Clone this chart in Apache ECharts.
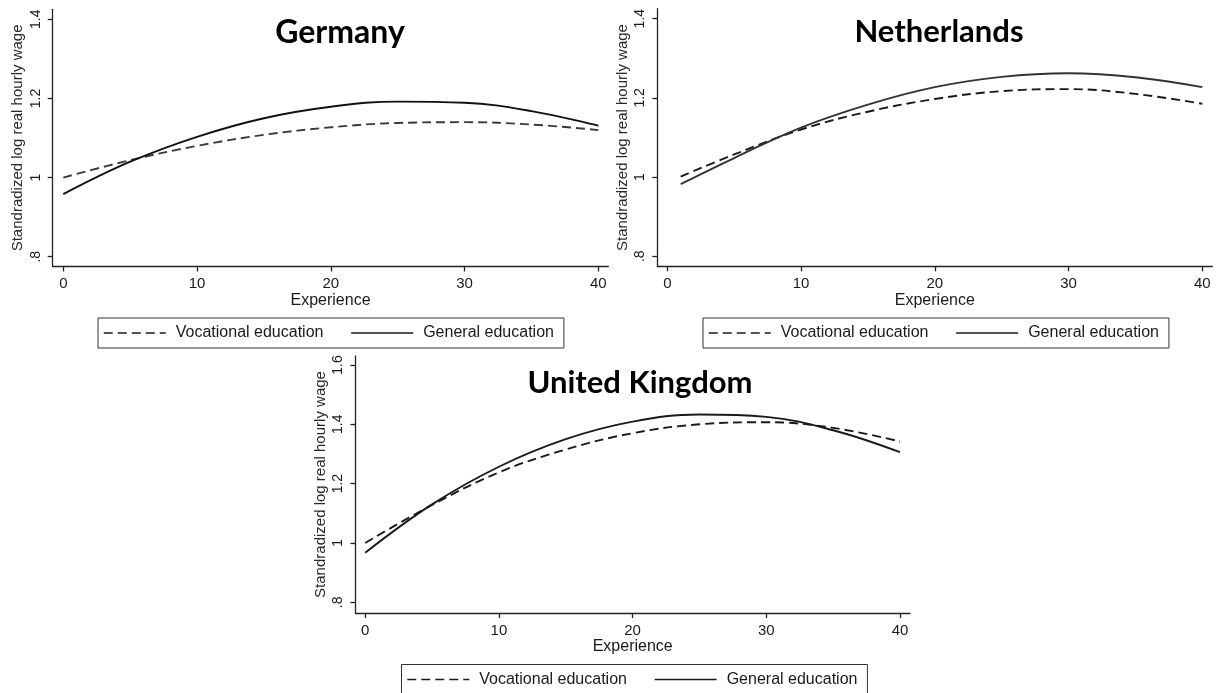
<!DOCTYPE html>
<html>
<head>
<meta charset="utf-8">
<script src="https://cdn.jsdelivr.net/npm/echarts@6/dist/echarts.min.js"></script>
<style>
html,body{margin:0;padding:0;background:#fff;}
#chart{width:1217px;height:693px;}
</style>
</head>
<body>
<div id="chart"></div>
<script>
// ---- Data ----
const seriesNames = ['Vocational education', 'General education'];

const experienceDE = [0, 5, 10, 15, 20, 25, 30, 35, 40];
const germanyVocational = [1.000, 1.044, 1.080, 1.108, 1.127, 1.138, 1.140, 1.134, 1.120];
const germanyGeneral    = [0.958, 1.040, 1.103, 1.150, 1.179, 1.192, 1.189, 1.168, 1.131];

const experienceNL = [1, 5, 10, 15, 20, 25, 30, 35, 40];
const netherlandsVocational = [1.001, 1.057, 1.120, 1.165, 1.197, 1.217, 1.222, 1.210, 1.185];
const netherlandsGeneral    = [0.982, 1.048, 1.125, 1.183, 1.227, 1.253, 1.262, 1.252, 1.227];

const experienceUK = [0, 5, 10, 15, 20, 25, 30, 35, 40];
const ukVocational = [1.000, 1.128, 1.238, 1.315, 1.370, 1.400, 1.407, 1.388, 1.342];
const ukGeneral    = [0.967, 1.130, 1.257, 1.350, 1.409, 1.433, 1.425, 1.380, 1.306];

const xTicks = [0, 10, 20, 30, 40];
const yTicksDENL = [0.8, 1.0, 1.2, 1.4];
const yTickLabelsDENL = ['.8', '1', '1.2', '1.4'];
const yTicksUK = [0.8, 1.0, 1.2, 1.4, 1.6];
const yTickLabelsUK = ['.8', '1', '1.2', '1.4', '1.6'];

const panelTitles = ['Germany', 'Netherlands', 'United Kingdom'];
const xAxisTitle = 'Experience';
const yAxisTitle = 'Standradized log real hourly wage';

// ---- helpers ----
function pairs(xs, ys) { return xs.map((x, i) => [x, ys[i]]); }
function labelFor(values, labels) {
  return function (v) {
    for (let i = 0; i < values.length; i++) {
      if (Math.abs(values[i] - v) < 1e-6) return labels[i];
    }
    return '';
  };
}

const txt = '#1a1a1a';
const sans = 'Liberation Sans, Arial, sans-serif';

const grids = [
  { left: 52.7, top: 9.3, width: 555.6, height: 257.2 },
  { left: 657.3, top: 8.7, width: 555.0, height: 257.6 },
  { left: 355.4, top: 356, width: 554.6, height: 257 }
];
const xRanges = [[-0.793, 40.748], [-0.748, 40.748], [-0.733, 40.748]];
const yRanges = [[0.7752, 1.4253], [0.7745, 1.4252], [0.7639, 1.6303]];
const yTickSets = [[yTicksDENL, yTickLabelsDENL], [yTicksDENL, yTickLabelsDENL], [yTicksUK, yTickLabelsUK]];

const axisLineStyle = { color: '#222', width: 1.3 };

const xAxes = grids.map((g, i) => ({
  type: 'value', gridIndex: i, min: xRanges[i][0], max: xRanges[i][1],
  splitLine: { show: false },
  axisLine: { show: true, onZero: false, lineStyle: axisLineStyle },
  axisTick: { show: true, length: 5, customValues: xTicks, lineStyle: axisLineStyle },
  axisLabel: { customValues: xTicks, margin: 10, fontFamily: sans, fontSize: 15, color: txt,
               formatter: v => String(Math.round(v)) },
  name: xAxisTitle, nameLocation: 'middle', nameGap: 26,
  nameTextStyle: { fontFamily: sans, fontSize: 16, color: txt }
}));

const yAxes = grids.map((g, i) => ({
  type: 'value', gridIndex: i, min: yRanges[i][0], max: yRanges[i][1],
  splitLine: { show: false },
  axisLine: { show: true, onZero: false, lineStyle: axisLineStyle },
  axisTick: { show: true, length: 5, customValues: yTickSets[i][0], lineStyle: axisLineStyle },
  axisLabel: { customValues: yTickSets[i][0], rotate: 90, margin: 10, fontFamily: sans, fontSize: 14, color: txt,
               formatter: labelFor(yTickSets[i][0], yTickSets[i][1]) },
  name: yAxisTitle, nameLocation: 'middle', nameGap: 27,
  nameTextStyle: { fontFamily: sans, fontSize: 15, color: '#2a2a2a' }
}));

const dashStyle = [9, 5];
function lineSeries(name, idx, data, dashed, color) {
  return {
    name: name, type: 'line', xAxisIndex: idx, yAxisIndex: idx,
    data: data, smooth: 0.4, symbol: 'none', silent: true, animation: false,
    lineStyle: { color: color, width: 1.9, type: dashed ? dashStyle : 'solid' },
    itemStyle: { color: color }
  };
}

const series = [
  lineSeries(seriesNames[0], 0, pairs(experienceDE, germanyVocational), true, '#3a3a3a'),
  lineSeries(seriesNames[1], 0, pairs(experienceDE, germanyGeneral), false, '#111'),
  lineSeries(seriesNames[0], 1, pairs(experienceNL, netherlandsVocational), true, '#1a1a1a'),
  lineSeries(seriesNames[1], 1, pairs(experienceNL, netherlandsGeneral), false, '#333'),
  lineSeries(seriesNames[0], 2, pairs(experienceUK, ukVocational), true, '#1a1a1a'),
  lineSeries(seriesNames[1], 2, pairs(experienceUK, ukGeneral), false, '#1a1a1a')
];

function legendAt(left, top) {
  return {
    left: left, top: top, orient: 'horizontal', data: seriesNames,
    borderColor: '#333', borderWidth: 1, borderRadius: 0,
    padding: [7, 10, 7, 5], itemWidth: 62, itemHeight: 14, itemGap: 27,
    selectedMode: false,
    itemStyle: { color: 'rgba(0,0,0,0)', borderWidth: 0, opacity: 0 },
    lineStyle: { width: 1.5, color: '#1a1a1a' },
    textStyle: { fontFamily: sans, fontSize: 16, color: txt, padding: [0, 0, 0, 5] }
  };
}

const titleSizes = [32, 31, 31];
const titleCenters = [[340, 17], [939, 16], [640, 367]];

const option = {
  backgroundColor: '#fff',
  animation: false,
  title: panelTitles.map((t, i) => ({
    text: t, left: titleCenters[i][0], top: titleCenters[i][1], textAlign: 'center', padding: 0,
    textStyle: { fontFamily: 'Lato', fontWeight: 'bold', fontSize: titleSizes[i], color: '#000' }
  })),
  legend: [legendAt(98, 318), legendAt(703, 318), legendAt(401.5, 664.5)],
  grid: grids,
  xAxis: xAxes,
  yAxis: yAxes,
  series: series
};

const chart = echarts.init(document.getElementById('chart'), null, { renderer: 'canvas' });
chart.setOption(option);
</script>
</body>
</html>
